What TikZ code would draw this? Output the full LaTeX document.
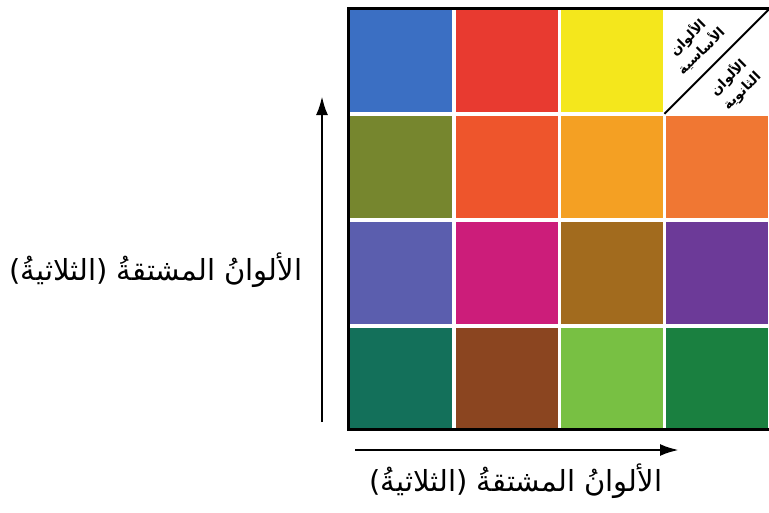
\documentclass[tikz,border=0pt]{standalone}
\usepackage{fontspec}
\usepackage{xcolor}
\usepackage{tikz}
\usetikzlibrary{arrows.meta}
\TeXXeTstate=1
\newfontfamily\arabicfont[Script=Arabic]{DejaVu Sans}
\newcommand{\artxt}[1]{\beginR #1\endR}
\definecolor{paintblue}{HTML}{3B6FC3}
\definecolor{paintred}{HTML}{E83A30}
\definecolor{paintyellow}{HTML}{F4E71C}
\definecolor{paintolive}{HTML}{76862E}
\definecolor{paintvermilion}{HTML}{EE552C}
\definecolor{paintamber}{HTML}{F4A023}
\definecolor{paintorange}{HTML}{F07733}
\definecolor{paintslate}{HTML}{5B5EAE}
\definecolor{paintmagenta}{HTML}{CC1D7A}
\definecolor{paintochre}{HTML}{A26B1E}
\definecolor{paintpurple}{HTML}{6C3A98}
\definecolor{paintteal}{HTML}{13705A}
\definecolor{paintbrown}{HTML}{8B4520}
\definecolor{paintlime}{HTML}{78C043}
\definecolor{paintgreen}{HTML}{1A8040}

\begin{document}
\begin{tikzpicture}[
    x=1pt, y=-1pt,
    swatch/.style={rectangle, inner sep=0pt, anchor=north west,
                   minimum width=102pt, minimum height=102pt},
    axislabel/.style={font=\arabicfont\fontsize{29}{34}\selectfont},
    cornerlabel/.style={font=\arabicfont\bfseries\fontsize{13.5}{19}\selectfont,
                        align=center, rotate=45, inner sep=0pt},
    axisarrow/.style={-{Latex[length=19pt,width=12pt]}, line width=2.8pt}
]
\useasboundingbox (0,0) rectangle (769,512);
\clip (0,0) rectangle (769,512);

% board
\draw[line width=3pt, fill=white] (348.5,8.5) rectangle (800,429.5);

\node (c11) [swatch, fill=paintblue] at (350,10) {};
\node (c12) [swatch, fill=paintred] at (455.3,10) {};
\node (c13) [swatch, fill=paintyellow] at (560.6,10) {};
\node (c14) [swatch] at (665.9,10) {};
\node (c21) [swatch, fill=paintolive] at (350,116) {};
\node (c22) [swatch, fill=paintvermilion] at (455.3,116) {};
\node (c23) [swatch, fill=paintamber] at (560.6,116) {};
\node (c24) [swatch, fill=paintorange] at (665.9,116) {};
\node (c31) [swatch, fill=paintslate] at (350,222) {};
\node (c32) [swatch, fill=paintmagenta] at (455.3,222) {};
\node (c33) [swatch, fill=paintochre] at (560.6,222) {};
\node (c34) [swatch, fill=paintpurple] at (665.9,222) {};
\node (c41) [swatch, fill=paintteal] at (350,328) {};
\node (c42) [swatch, fill=paintbrown] at (455.3,328) {};
\node (c43) [swatch, fill=paintlime] at (560.6,328) {};
\node (c44) [swatch, fill=paintgreen] at (665.9,328) {};

\draw[line width=3pt] (348.5,8.5) rectangle (800,429.5);

% corner of the board
\draw[line width=2pt, shorten <=-2pt, shorten >=-4pt] (c14.south west) -- (c14.north east);
\node (primary) [cornerlabel] at (694,44) {\artxt{الألوان}\\\artxt{الأساسية}};
\node (secondary) [cornerlabel] at (735,84) {\artxt{الألوان}\\\artxt{الثانوية}};

% axes
\coordinate (vstart) at (322,422);
\coordinate (vend) at (322,96);
\coordinate (hstart) at (355,450);
\coordinate (hend) at (679,450);
\draw[axisarrow] (vstart) -- (vend);
\draw[axisarrow] (hstart) -- (hend);
\node (leftlabel) [axislabel] at (156,270) {\artxt{الألوانُ المشتقةُ (الثلاثيةُ)}};
\node (bottomlabel) [axislabel] at (516,481) {\artxt{الألوانُ المشتقةُ (الثلاثيةُ)}};
\end{tikzpicture}
\end{document}
